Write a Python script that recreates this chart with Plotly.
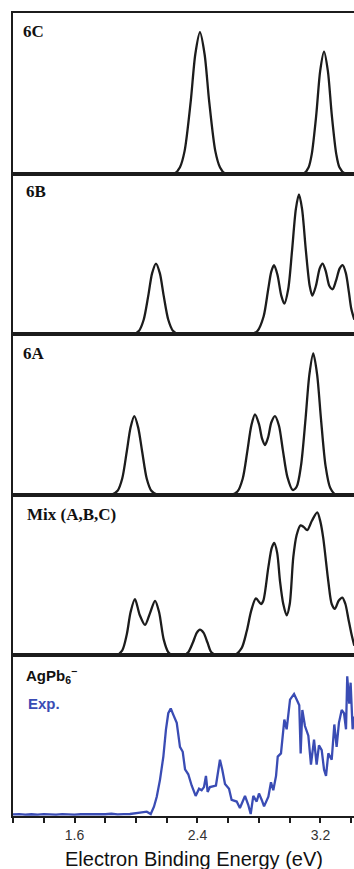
import plotly.graph_objects as go
from plotly.subplots import make_subplots

# Energy axis (eV) and intensities for each panel
energy_6c = [1.20, 2.25, 2.286, 2.316, 2.356, 2.386, 2.416, 2.446, 2.476, 2.516, 2.546, 2.58,
             3.09, 3.123, 3.143, 3.173, 3.198, 3.223, 3.248, 3.273, 3.303, 3.323, 3.36, 3.42]
intensity_6c = [0, 0, 0.04, 0.14, 0.45, 0.745, 0.88, 0.745, 0.45, 0.14, 0.04, 0,
                0, 0.04, 0.12, 0.37, 0.64, 0.76, 0.64, 0.37, 0.12, 0.04, 0, 0]

energy_6b = [1.20, 1.98, 2.02, 2.05, 2.08, 2.105, 2.13, 2.155, 2.18, 2.21, 2.24, 2.28,
             2.75, 2.79, 2.83, 2.86, 2.88, 2.898, 2.92, 2.945, 2.965, 2.99,
             3.015, 3.04, 3.06, 3.08, 3.105, 3.13, 3.147, 3.17, 3.195, 3.214,
             3.235, 3.258, 3.279, 3.30, 3.325, 3.344, 3.365, 3.385, 3.40, 3.42]
intensity_6b = [0, 0, 0.022, 0.09, 0.24, 0.38, 0.44, 0.38, 0.24, 0.09, 0.022, 0,
                0, 0.02, 0.11, 0.28, 0.39, 0.43, 0.37, 0.24, 0.19, 0.28,
                0.52, 0.78, 0.87, 0.78, 0.52, 0.30, 0.24, 0.30, 0.41, 0.44,
                0.39, 0.30, 0.28, 0.33, 0.41, 0.43, 0.38, 0.26, 0.16, 0.09]

energy_6a = [1.20, 1.84, 1.88, 1.91, 1.94, 1.965, 1.989, 2.014, 2.04, 2.07,
             2.10, 2.14, 2.62, 2.66, 2.694, 2.724, 2.75, 2.774, 2.80, 2.82,
             2.839, 2.86, 2.88, 2.904, 2.93, 2.955, 2.985, 3.019, 3.045, 3.073,
             3.103, 3.128, 3.153, 3.178, 3.203, 3.233, 3.263, 3.30, 3.42]
intensity_6a = [0, 0, 0.025, 0.10, 0.27, 0.42, 0.49, 0.42, 0.27, 0.10,
                0.025, 0, 0, 0.02, 0.10, 0.27, 0.43, 0.50, 0.44, 0.35,
                0.31, 0.36, 0.45, 0.49, 0.43, 0.28, 0.11, 0.03, 0.05, 0.18,
                0.475, 0.75, 0.88, 0.75, 0.475, 0.18, 0.044, 0, 0]

energy_mix = [1.20, 1.87, 1.91, 1.94, 1.965, 1.993, 2.025, 2.059, 2.09, 2.124,
              2.15, 2.18, 2.21, 2.24, 2.31, 2.34, 2.37, 2.395, 2.416, 2.44,
              2.465, 2.49, 2.53, 2.64, 2.687, 2.72, 2.75, 2.78, 2.813, 2.828,
              2.861, 2.883, 2.899, 2.918, 2.937, 2.958, 2.98, 3.0, 3.023, 3.045,
              3.07, 3.09, 3.114, 3.145, 3.179, 3.20, 3.218, 3.251, 3.273, 3.294,
              3.318, 3.342, 3.362, 3.381, 3.40, 3.42]
intensity_mix = [0, 0, 0.03, 0.13, 0.27, 0.35, 0.25, 0.19, 0.26, 0.34,
                 0.27, 0.10, 0.02, 0, 0, 0.02, 0.08, 0.14, 0.16, 0.14,
                 0.08, 0.02, 0, 0, 0.045, 0.15, 0.28, 0.355, 0.32, 0.34,
                 0.55, 0.67, 0.70, 0.64, 0.46, 0.32, 0.25, 0.32, 0.61, 0.75,
                 0.81, 0.80, 0.78, 0.84, 0.89, 0.83, 0.73, 0.46, 0.32, 0.29,
                 0.34, 0.36, 0.32, 0.23, 0.14, 0.06]

energy_exp = [1.20, 1.24, 1.28, 1.32, 1.36, 1.40, 1.44, 1.48, 1.52, 1.56,
              1.60, 1.64, 1.68, 1.72, 1.76, 1.80, 1.84, 1.88, 1.92,
              1.961, 2.026, 2.070, 2.096, 2.117, 2.135, 2.156, 2.178, 2.195, 2.210,
              2.226, 2.243, 2.265, 2.286, 2.304, 2.319, 2.340, 2.362, 2.388, 2.410,
              2.427, 2.442, 2.455, 2.466, 2.481, 2.520, 2.535, 2.546, 2.561, 2.579,
              2.605, 2.622, 2.655, 2.676, 2.709, 2.730, 2.746, 2.763, 2.785, 2.800,
              2.818, 2.833, 2.861, 2.878, 2.893, 2.911, 2.922, 2.943, 2.965, 2.980,
              3.002, 3.028, 3.045, 3.062, 3.071, 3.082, 3.099, 3.121, 3.138, 3.158,
              3.175, 3.190, 3.208, 3.223, 3.236, 3.251, 3.273, 3.290, 3.305, 3.320,
              3.338, 3.353, 3.366, 3.374, 3.387, 3.396, 3.409, 3.418]
intensity_exp = [0.010, 0.012, 0.008, 0.011, 0.009, 0.012, 0.010, 0.008, 0.012, 0.010,
                 0.009, 0.011, 0.010, 0.013, 0.009, 0.011, 0.014, 0.010, 0.012,
                 0.0125, 0.021, 0.027, 0.0125, 0.058, 0.12, 0.225, 0.37, 0.54, 0.64,
                 0.67, 0.63, 0.58, 0.43, 0.40, 0.29, 0.26, 0.19, 0.125, 0.17,
                 0.16, 0.18, 0.25, 0.15, 0.18, 0.19, 0.27, 0.35, 0.29, 0.20,
                 0.17, 0.10, 0.09, 0.05, 0.125, 0.07, 0.0125, 0.125, 0.09, 0.14,
                 0.10, 0.06, 0.12, 0.21, 0.16, 0.25, 0.37, 0.39, 0.60, 0.54,
                 0.725, 0.76, 0.725, 0.69, 0.39, 0.66, 0.56, 0.50, 0.32, 0.475,
                 0.32, 0.44, 0.41, 0.29, 0.25, 0.39, 0.35, 0.57, 0.43, 0.58,
                 0.66, 0.64, 0.54, 0.87, 0.70, 0.83, 0.54, 0.62]

tick_values = [1.6, 2.4, 3.2]
tick_labels = ["1.6", "2.4", "3.2"]

X_RANGE = [1.2, 3.418]
INK = "#1c1c1c"
BLUE = "#3a4cb4"

W, H = 354, 869
M_L, M_R, M_T, M_B = 13, 0, 13, 53
PLOT_H = H - M_T - M_B
PLOT_W = W - M_L - M_R

fig = make_subplots(rows=5, cols=1, shared_xaxes=True, vertical_spacing=0)

theory = [(energy_6c, intensity_6c), (energy_6b, intensity_6b),
          (energy_6a, intensity_6a), (energy_mix, intensity_mix)]
for row, (e, s) in enumerate(theory, start=1):
    fig.add_trace(go.Scatter(x=e, y=s, mode="lines",
                             line=dict(color=INK, width=2.3, shape="spline", smoothing=0.8),
                             showlegend=False, hoverinfo="skip"), row=row, col=1)

fig.add_trace(go.Scatter(x=energy_exp, y=intensity_exp, mode="lines",
                         line=dict(color=BLUE, width=2.3),
                         showlegend=False, hoverinfo="skip"), row=5, col=1)

fig.update_xaxes(range=X_RANGE, showline=True, linecolor=INK, linewidth=2, mirror=True,
                 showgrid=False, zeroline=False, ticks="", showticklabels=False)
fig.update_xaxes(row=5, col=1, ticks="outside", tickvals=tick_values, ticktext=tick_labels,
                 ticklen=5, tickwidth=1.5, tickcolor=INK, showticklabels=True,
                 tickfont=dict(family="Liberation Sans", size=14, color="#333"),
                 minor=dict(tick0=1.2, dtick=0.2, ticks="outside", ticklen=5,
                            tickwidth=1.5, tickcolor=INK))
fig.update_yaxes(range=[0, 1.0], showline=True, linecolor=INK, linewidth=2, mirror=False,
                 showgrid=False, zeroline=False, ticks="", showticklabels=False)


def px_x(p):
    return (p - M_L) / PLOT_W


def px_y(p):
    return (H - M_B - p) / PLOT_H


serif = dict(family="Liberation Serif", size=17, color="#111")
sans = dict(family="Liberation Sans", size=15, color="#111")
labels = [
    ("<b>6C</b>", 21, 20, serif),
    ("<b>6B</b>", 24, 180, serif),
    ("<b>6A</b>", 21, 342, serif),
    ("<b>Mix (A,B,C)</b>", 25, 503, serif),
    ("<b>AgPb<sub>6</sub><sup>−</sup></b>", 24, 663, sans),
    ("<b>Exp.</b>", 26, 693, dict(sans, color=BLUE)),
]
for text, lx, ty, font in labels:
    fig.add_annotation(text=text, xref="paper", yref="paper", x=px_x(lx), y=px_y(ty),
                       xanchor="left", yanchor="top", showarrow=False, font=font)

fig.add_annotation(text="Electron Binding Energy (eV)", xref="paper", yref="paper",
                   x=px_x(194), y=px_y(846), xanchor="center", yanchor="top",
                   showarrow=False, font=dict(family="Liberation Sans", size=20, color="#111"))

fig.update_layout(width=W, height=H, margin=dict(l=M_L, r=M_R, t=M_T, b=M_B),
                  paper_bgcolor="white", plot_bgcolor="white")

fig.write_html("out.html")
